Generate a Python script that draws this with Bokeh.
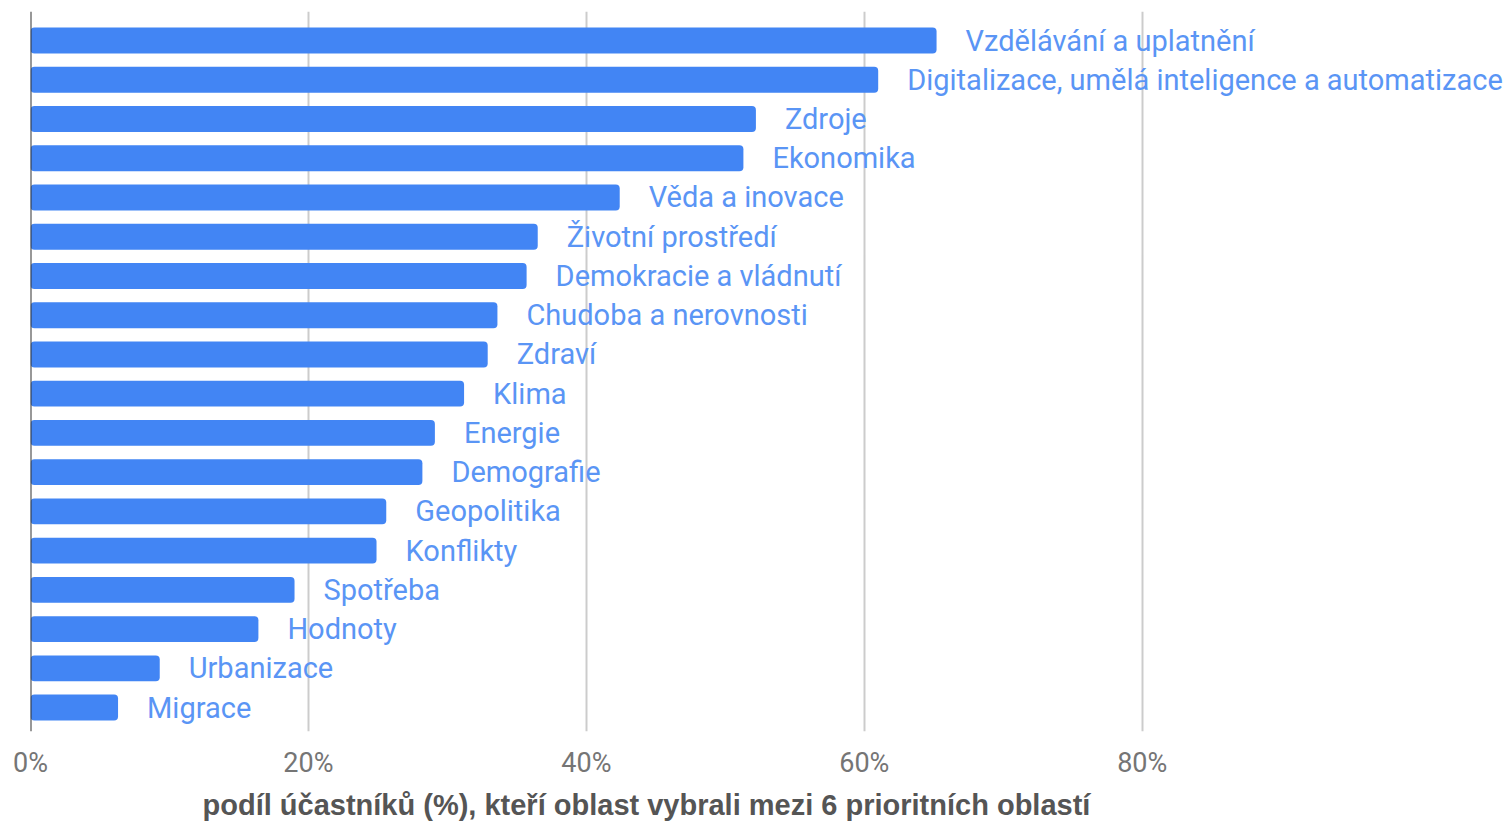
from bokeh.plotting import figure
from bokeh.models import ColumnDataSource, Range1d, FixedTicker, Span, Title, CustomJSTickFormatter
from bokeh.core.properties import value
from bokeh.embed import file_html
from bokeh.resources import INLINE

categories = [
    "Vzdělávání a uplatnění",
    "Digitalizace, umělá inteligence a automatizace",
    "Zdroje",
    "Ekonomika",
    "Věda a inovace",
    "Životní prostředí",
    "Demokracie a vládnutí",
    "Chudoba a nerovnosti",
    "Zdraví",
    "Klima",
    "Energie",
    "Demografie",
    "Geopolitika",
    "Konflikty",
    "Spotřeba",
    "Hodnoty",
    "Urbanizace",
    "Migrace",
]
shares = [65.2, 61.0, 52.2, 51.3, 42.4, 36.5, 35.7, 33.6, 32.9, 31.2,
          29.1, 28.2, 25.6, 24.9, 19.0, 16.4, 9.3, 6.3]
x_ticks = [0, 20, 40, 60, 80]
x_title = "podíl účastníků (%), kteří oblast vybrali mezi 6 prioritních oblastí"

source = ColumnDataSource(dict(
    y=list(range(len(categories))),
    cat=categories,
    val=shares,
))

p = figure(width=1510, height=826, output_backend="svg", toolbar_location=None,
           x_range=Range1d(0, 106.5), y_range=Range1d(17.61, -0.74),
           min_border_left=30, min_border_right=0, min_border_top=11,
           min_border_bottom=94)
p.outline_line_color = None
p.background_fill_color = "white"
p.border_fill_color = "white"

p.hbar(y="y", right="val", left=0, height=0.66, source=source,
       fill_color="#4285F4", line_color=None, border_radius=4)
p.text(x="val", y="y", text="cat", source=source, x_offset=29,
       text_baseline="middle", text_align="left",
       text_font=value("Roboto"), text_font_size="29px", text_color="#5a95f5")

p.yaxis.visible = False
p.ygrid.visible = False
p.xgrid.ticker = FixedTicker(ticks=x_ticks)
p.xgrid.grid_line_color = "#cccccc"
p.xgrid.grid_line_width = 2

xa = p.xaxis[0]
xa.ticker = FixedTicker(ticks=x_ticks)
xa.formatter = CustomJSTickFormatter(code="return tick + '%';")
xa.axis_line_color = None
xa.major_tick_line_color = None
xa.minor_tick_line_color = None
xa.major_label_standoff = 9
xa.major_label_text_font = "Roboto"
xa.major_label_text_font_size = "27px"
xa.major_label_text_color = "#757575"

p.add_layout(Span(location=0, dimension="height", line_color="#333333", line_width=2))

t = Title(text=x_title, align="left", offset=172, text_font="Liberation Sans",
          text_font_style="bold", text_font_size="29px", text_color="#555555",
          standoff=11)
p.add_layout(t, "below")

open("out.html", "w").write(file_html(p, INLINE))
